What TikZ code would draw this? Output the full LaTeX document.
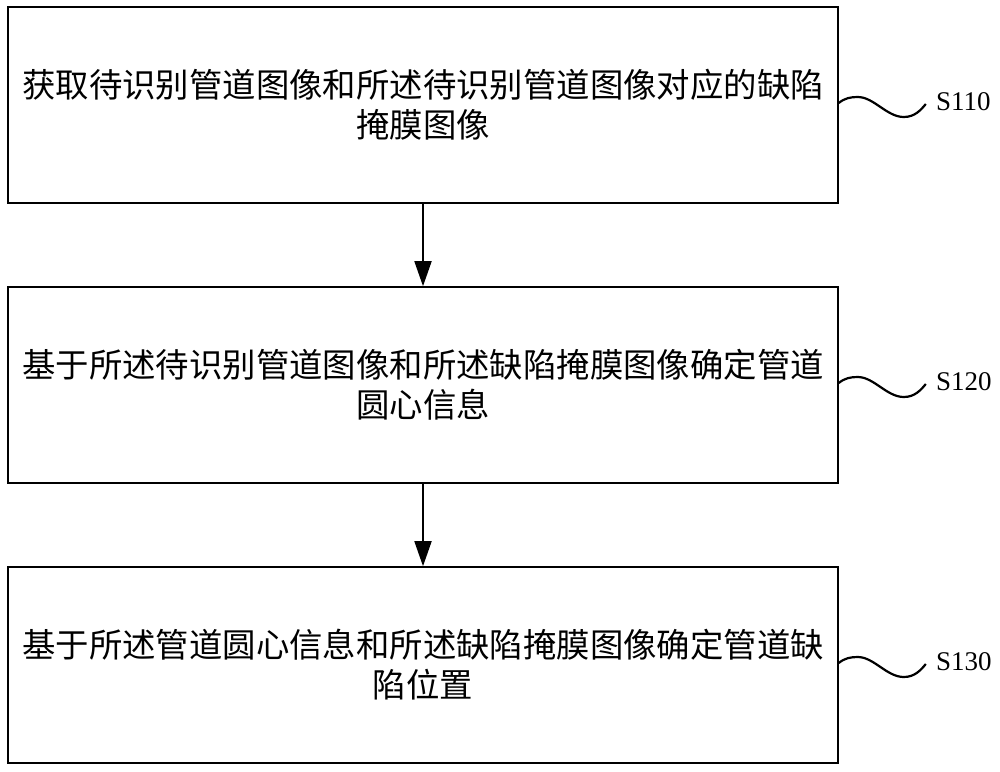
\documentclass[tikz,border=0pt]{standalone}
\usepackage{fontspec}
\setmainfont{Liberation Serif}
\newfontfamily\cjk{Noto Sans CJK SC}
\usetikzlibrary{arrows.meta}
\begin{document}
\begin{tikzpicture}[x=1pt,y=-1pt,
  stepbox/.style={draw,line width=1.6pt,minimum width=830pt,minimum height=196pt,
    text width=812pt,align=center,font=\cjk\fontsize{33.4}{40}\selectfont,inner sep=0pt},
  flow/.style={line width=1.8pt,-{Triangle[length=25pt,width=17pt]}},
  wave/.style={line width=2.2pt},
  steplabel/.style={font=\fontsize{27}{30}\selectfont,anchor=west,inner sep=0pt}]
\useasboundingbox (0,0) rectangle (1000,771);
\node[stepbox] (b1) at (423,105) {获取待识别管道图像和所述待识别管道图像对应的缺陷\\掩膜图像};
\node[stepbox] (b2) at (423,385) {基于所述待识别管道图像和所述缺陷掩膜图像确定管道\\圆心信息};
\node[stepbox] (b3) at (423,665) {基于所述管道圆心信息和所述缺陷掩膜图像确定管道缺\\陷位置};
\draw[flow] (b1) -- (b2);
\draw[flow] (b2) -- (b3);
\foreach \b/\t in {b1/S110,b2/S120,b3/S130}{
  \begin{scope}[shift={(\b.east)}]
    \coordinate (\b w0) at (0,-2);
    \coordinate (\b w1) at (87,-1);
    \node[steplabel] (\b l) at (97,-3) {\t};
    \draw[wave] (\b w0) .. controls (6,-7) and (12,-8) .. (19,-8)
       .. controls (35,-8) and (48,12) .. (65,12)
       .. controls (76,12) and (82,5) .. (\b w1);
  \end{scope}
}
\end{tikzpicture}
\end{document}
